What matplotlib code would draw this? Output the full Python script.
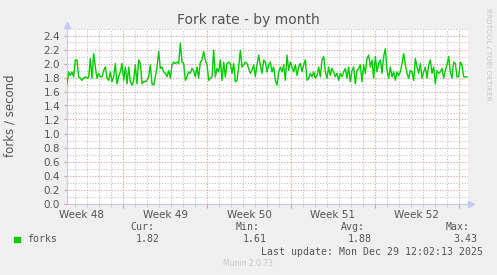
import numpy as np
import pandas as pd
import matplotlib
matplotlib.use('Agg')
from matplotlib import pyplot as plt
import matplotlib.dates as mdates
from matplotlib.ticker import MultipleLocator

# fork rate, one sample every 200 minutes
forks = [
    1.71, 1.88, 1.83, 1.88, 1.81, 2.05, 2.05, 1.81, 1.79, 1.76, 1.79, 1.81, 1.79, 1.80,
    2.07, 1.79, 2.14, 1.95, 1.79, 1.86, 1.81, 1.81, 1.90, 1.95, 1.79, 1.76, 1.88, 1.74,
    1.81, 2.00, 1.71, 1.81, 1.88, 2.00, 1.76, 1.95, 1.71, 1.95, 1.74, 1.69, 1.76, 1.98,
    1.71, 2.05, 2.00, 1.71, 1.74, 1.74, 1.76, 1.81, 1.98, 1.71, 1.69, 1.81, 1.95, 2.17,
    1.93, 1.95, 1.88, 1.86, 1.81, 1.90, 1.79, 1.98, 2.02, 2.00, 2.02, 2.00, 2.29, 2.02,
    2.00, 1.76, 1.81, 1.88, 1.86, 1.93, 1.90, 1.81, 1.95, 1.79, 2.02, 2.05, 2.17, 2.05,
    1.98, 1.76, 1.79, 1.81, 2.19, 1.81, 1.93, 1.88, 2.05, 1.76, 2.02, 1.81, 2.00, 2.02,
    2.00, 1.86, 2.00, 1.74, 1.76, 1.95, 2.19, 1.95, 1.98, 2.02, 2.00, 1.93,
    1.86, 1.90, 1.98, 1.81, 1.98, 2.12, 1.98, 1.86, 2.05, 2.02, 1.88, 1.98, 2.02, 1.88,
    1.95, 1.76, 1.69, 1.88, 1.95, 1.88, 1.98, 1.76, 2.12, 1.90, 2.02, 1.95, 1.88, 1.98,
    1.83, 1.95, 2.00, 1.88, 1.98, 2.05, 1.76, 1.79, 1.86, 1.81, 1.88, 1.79, 1.83, 1.95,
    1.81, 2.05, 2.10, 1.88, 1.79, 1.95, 1.83, 1.93, 1.88, 1.81, 1.86, 1.76, 1.86, 1.81,
    1.88, 1.93, 1.79, 1.95, 1.74, 1.90, 1.95, 1.71, 1.90, 1.93, 1.98, 1.74, 1.98, 1.86,
    2.07, 2.12, 1.95, 2.05, 1.79, 2.10, 1.88, 2.00, 2.05, 1.86, 2.10, 2.21, 1.90, 1.79,
    1.95, 1.81, 1.88, 1.76, 1.88, 1.83, 1.88, 2.00, 2.14, 1.98, 1.86, 1.79, 1.90, 1.88,
    1.76, 2.07, 1.95, 1.86, 2.00, 1.79, 1.88, 1.95, 1.79, 1.98, 2.05, 1.86, 1.95, 1.71,
    1.90, 1.86, 1.88, 1.93, 1.79, 1.90, 1.98, 2.10, 1.88, 1.79, 2.02, 2.00, 1.81, 1.81,
    2.02, 1.98, 1.81, 1.81, 1.81,
]
times = pd.date_range('2025-11-26 08:00', periods=len(forks), freq='200min')

week_starts = pd.date_range('2025-12-01', '2025-12-29', freq='7D')
week_labels = ['Week 48', 'Week 49', 'Week 50', 'Week 51', 'Week 52']
week_mids = pd.date_range('2025-11-27 12:00', periods=5, freq='7D')

legend_cols = ['Cur:', 'Min:', 'Avg:', 'Max:']
legend_vals = ['1.82', '1.61', '1.88', '3.43']

W, H = 497, 275
bg = '#f0f0f0'
txt = '#555555'
red = '#dc9c9c'
grey = '#c4c4c4'
axis_blue = '#c8c8f0'

fig = plt.figure(figsize=(W / 100, H / 100), dpi=100, facecolor=bg)
ax = fig.add_axes([67 / W, 71.5 / H, 401 / W, 175 / H])
ax.set_facecolor('white')

ax.plot(times, forks, color='#00cc00', lw=1.0, zorder=3)

ax.set_xlim(pd.Timestamp('2025-11-26 08:00'), pd.Timestamp('2025-12-29 18:00'))
ax.set_ylim(0, 2.5)

ax.yaxis.set_major_locator(MultipleLocator(0.2))
ax.yaxis.set_minor_locator(MultipleLocator(0.1))
ax.set_xticks(week_starts)
ax.xaxis.set_minor_locator(mdates.DayLocator())
ax.set_xticklabels([])
ax.yaxis.set_major_formatter(matplotlib.ticker.FormatStrFormatter('%.1f'))

ax.grid(which='major', color=red, ls=(0, (1, 1.5)), lw=0.8)
ax.grid(which='minor', color=grey, ls=(0, (1, 1.5)), lw=0.8)
ax.tick_params(axis='y', which='major', labelsize=7.5, labelcolor=txt, length=2, color=red, pad=3)
ax.tick_params(axis='y', which='minor', length=1, color=grey)
ax.tick_params(axis='x', which='major', length=3, color=red)
ax.tick_params(axis='x', which='minor', length=2, color=grey)

for s in ['top', 'right']:
    ax.spines[s].set_visible(False)
for s in ['left', 'bottom']:
    ax.spines[s].set_color(axis_blue)
    ax.spines[s].set_linewidth(0.8)
ax.plot([0], [1.02], marker='^', ms=4, color=axis_blue, transform=ax.transAxes, clip_on=False)
ax.plot([1.008], [0], marker='>', ms=4, color=axis_blue, transform=ax.transAxes, clip_on=False)

for m, lab in zip(week_mids, week_labels):
    ax.text(m, -0.035, lab, transform=ax.get_xaxis_transform(), ha='center', va='top',
            fontsize=7.5, color=txt)

fig.text(248 / W, 1 - 20 / H, 'Fork rate - by month', ha='center', va='center',
         fontsize=10, color=txt)
fig.text(10 / W, 1 - 116 / H, 'forks / second', rotation=90, ha='center', va='center',
         fontsize=8.5, color=txt)
fig.text(488 / W, 1 - 54 / H, 'RRDTOOL / TOBI OETIKER', rotation=270, ha='center',
         va='center', fontsize=5.2, color='#c8c8c8')

mono = 'DejaVu Sans Mono'
fig.patches.append(plt.Rectangle((14 / W, 1 - 242 / H), 5.5 / W, 5.5 / H,
                                 transform=fig.transFigure, color='#00cc00'))
fig.text(27 / W, 1 - 239.5 / H, 'forks', family=mono, fontsize=7.1, color=txt, va='center')
for col, val, xh, xv in zip(legend_cols, legend_vals, [154, 260, 365, 470], [160, 267, 372, 477]):
    fig.text(xh / W, 1 - 227.5 / H, col, family=mono, fontsize=7.1, color=txt,
             ha='right', va='center')
    fig.text(xv / W, 1 - 239.5 / H, val, family=mono, fontsize=7.1, color=txt,
             ha='right', va='center')
fig.text(483 / W, 1 - 252 / H, 'Last update: Mon Dec 29 12:02:13 2025', family=mono,
         fontsize=7.1, color=txt, ha='right', va='center')
fig.text(248 / W, 1 - 264 / H, 'Munin 2.0.73', fontsize=5.5, color='#c8c8c8',
         ha='center', va='center')

fig.savefig('out.png', dpi=100, facecolor=bg)
